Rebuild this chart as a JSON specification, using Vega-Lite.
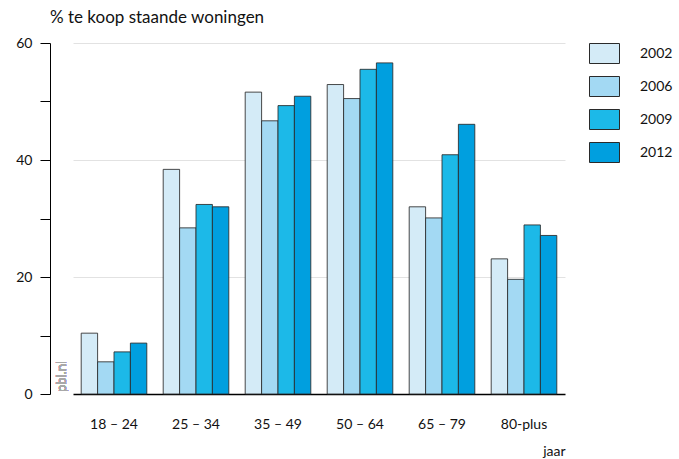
{
  "$schema": "https://vega.github.io/schema/vega-lite/v6.json",
  "width": 492,
  "height": 351,
  "autosize": {"type": "none"},
  "padding": {"left": 73, "top": 43, "right": 114, "bottom": 65},
  "background": "white",
  "config": {
    "font": "Lato",
    "view": {"stroke": null}
  },
  "title": {
    "text": "% te koop staande woningen",
    "anchor": "start",
    "frame": "group",
    "dx": -23,
    "offset": 9,
    "fontSize": 17,
    "fontWeight": "normal",
    "color": "#111"
  },
  "data": {
    "values": [
      {"leeftijd": "18 – 24", "jaar": "2002", "waarde": 10.4},
      {"leeftijd": "18 – 24", "jaar": "2006", "waarde": 5.5},
      {"leeftijd": "18 – 24", "jaar": "2009", "waarde": 7.2},
      {"leeftijd": "18 – 24", "jaar": "2012", "waarde": 8.7},
      {"leeftijd": "25 – 34", "jaar": "2002", "waarde": 38.4},
      {"leeftijd": "25 – 34", "jaar": "2006", "waarde": 28.4},
      {"leeftijd": "25 – 34", "jaar": "2009", "waarde": 32.4},
      {"leeftijd": "25 – 34", "jaar": "2012", "waarde": 32.0},
      {"leeftijd": "35 – 49", "jaar": "2002", "waarde": 51.6},
      {"leeftijd": "35 – 49", "jaar": "2006", "waarde": 46.7},
      {"leeftijd": "35 – 49", "jaar": "2009", "waarde": 49.3},
      {"leeftijd": "35 – 49", "jaar": "2012", "waarde": 50.9},
      {"leeftijd": "50 – 64", "jaar": "2002", "waarde": 52.9},
      {"leeftijd": "50 – 64", "jaar": "2006", "waarde": 50.5},
      {"leeftijd": "50 – 64", "jaar": "2009", "waarde": 55.5},
      {"leeftijd": "50 – 64", "jaar": "2012", "waarde": 56.6},
      {"leeftijd": "65 – 79", "jaar": "2002", "waarde": 32.0},
      {"leeftijd": "65 – 79", "jaar": "2006", "waarde": 30.1},
      {"leeftijd": "65 – 79", "jaar": "2009", "waarde": 40.9},
      {"leeftijd": "65 – 79", "jaar": "2012", "waarde": 46.1},
      {"leeftijd": "80-plus", "jaar": "2002", "waarde": 23.1},
      {"leeftijd": "80-plus", "jaar": "2006", "waarde": 19.6},
      {"leeftijd": "80-plus", "jaar": "2009", "waarde": 28.9},
      {"leeftijd": "80-plus", "jaar": "2012", "waarde": 27.1}
    ]
  },
  "layer": [
    {
      "mark": {"type": "bar", "stroke": "#2a2a2a", "strokeWidth": 1, "strokeOpacity": 0.85},
      "encoding": {
        "x": {
          "field": "leeftijd",
          "type": "nominal",
          "sort": null,
          "scale": {"paddingInner": 0.2, "paddingOuter": 0.1},
          "axis": {
            "title": "jaar",
            "titleAnchor": "end",
            "titleFontWeight": "normal",
            "titleFontSize": 14,
            "titleColor": "#111",
            "titlePadding": 13,
            "labelAngle": 0,
            "labelFontSize": 14,
            "labelColor": "#111",
            "labelPadding": 23,
            "ticks": false,
            "domainColor": "#000",
            "domainWidth": 1.3,
            "grid": false
          }
        },
        "xOffset": {"field": "jaar", "type": "nominal"},
        "y": {
          "field": "waarde",
          "type": "quantitative",
          "scale": {"domain": [0, 60], "nice": false},
          "axis": {
            "title": null,
            "values": [0, 10, 20, 30, 40, 50, 60],
            "labelExpr": "datum.value % 20 == 0 ? datum.label : ''",
            "offset": 23,
            "domainColor": "#000",
            "tickColor": "#000",
            "tickSize": 10,
            "labelPadding": 8,
            "labelFontSize": 14,
            "labelColor": "#111",
            "grid": true,
            "gridColor": "#e2e2e2",
            "gridWidth": 1,
            "gridOpacity": {"condition": {"test": "datum.value % 20 != 0 || datum.value == 0", "value": 0}, "value": 1}
          }
        },
        "color": {
          "field": "jaar",
          "type": "nominal",
          "scale": {
            "domain": ["2002", "2006", "2009", "2012"],
            "range": ["#d4ebf7", "#a3d9f3", "#1cb9e8", "#009fdf"]
          },
          "legend": {
            "title": null,
            "orient": "none",
            "legendX": 521,
            "legendY": 0,
            "symbolType": "M-1.5,-1L1.5,-1L1.5,1L-1.5,1Z",
            "symbolSize": 400,
            "symbolStrokeColor": "#2a2a2a",
            "symbolStrokeWidth": 1,
            "symbolOpacity": 1,
            "labelFontSize": 14,
            "labelColor": "#111",
            "labelOffset": 25,
            "rowPadding": 8
          }
        }
      }
    },
    {
      "mark": {"type": "text", "text": "pbl.nl", "angle": 270, "align": "left", "baseline": "middle", "fontSize": 13, "color": "#a8a8a8", "dx": 2},
      "encoding": {
        "y": {"datum": 0, "type": "quantitative"},
        "x": {"value": -11}
      }
    }
  ]
}
